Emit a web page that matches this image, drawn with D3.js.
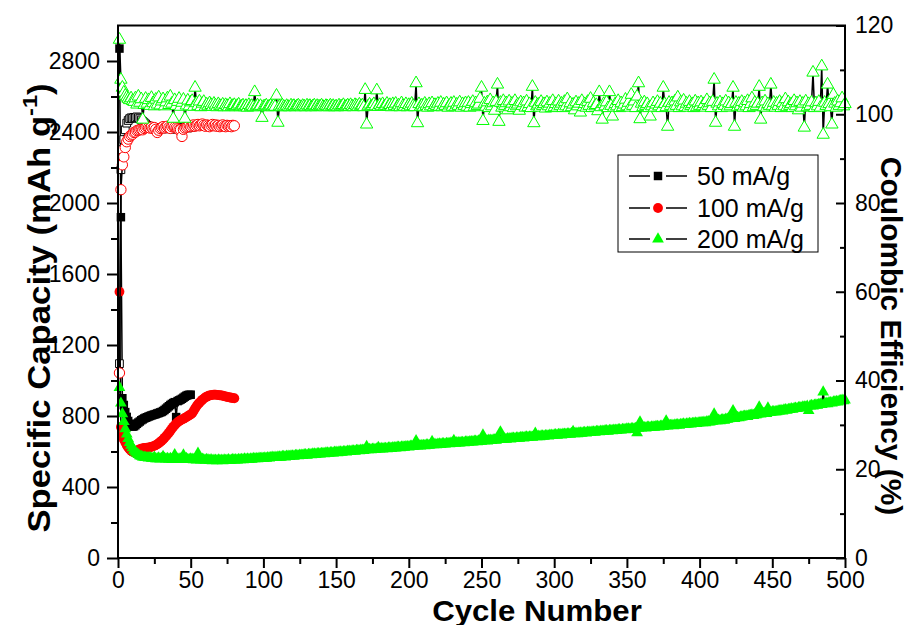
<!DOCTYPE html>
<html>
<head>
<meta charset="utf-8">
<script src="https://cdn.jsdelivr.net/npm/d3@7"></script>
<style>
  body { margin: 0; background: #fff; }
  svg { display: block; font-family: 'Liberation Sans', Arial, sans-serif; }
</style>
</head>
<body>
<svg id="chart" width="908" height="625"></svg>
<script>
// capacity (mAh/g) and coulombic efficiency (%) per cycle
const cap50 = [2870, 1920, 900, 862, 822, 795, 772, 756, 745, 740,
  742, 748, 756, 763, 769, 776, 781, 786, 790, 793,
  797, 800, 803, 806, 808, 811, 814, 817, 820, 823,
  828, 834, 841, 848, 855, 862, 868, 873, 878, 794,
  884, 888, 892, 897, 903, 909, 914, 918, 919, 920]
const ce50 = [43.8, 87.5, 92.0, 94.3, 96.5, 98.0, 98.6, 99.0, 99.2, 99.1,
  99.3, 99.2, 99.4, 99.2, 99.0, 98.7, 98.4, 98.1, 97.8, 97.5,
  97.3, 97.1, 97.0, 96.9, 97.0, 96.8, 96.9, 96.8, 97.0, 96.7,
  96.9, 96.8, 97.0, 96.7, 96.9, 96.8, 97.0, 96.9, 97.1, 96.6,
  96.9, 97.0, 96.8, 97.1, 96.9, 97.0, 97.2, 96.9, 97.1, 97.0]

const cap100 = [1500, 738, 693, 668, 652, 635, 622, 612, 604, 598,
  597, 600, 604, 609, 613, 616, 618, 620, 620, 621,
  622, 624, 626, 629, 632, 636, 641, 647, 654, 661,
  668, 677, 686, 696, 706, 717, 728, 739, 748, 757,
  765, 771, 776, 780, 784, 789, 794, 799, 804, 808,
  815, 828, 842, 855, 866, 875, 883, 891, 898, 904,
  909, 913, 916, 918, 919, 920, 920, 919, 918, 917,
  916, 914, 912, 910, 908, 906, 904, 903, 901, 900]
const ce100 = [41.7, 83.0, 88.6, 90.4, 92.5, 93.8, 94.4, 95.0, 95.3, 95.5,
  95.9, 96.0, 96.3, 96.4, 96.5, 96.6, 96.5, 96.8, 97.0, 97.2,
  97.0, 96.9, 97.1, 96.8, 97.0, 96.6, 95.9, 96.4, 96.8, 97.0,
  97.2, 96.9, 97.1, 97.3, 97.0, 96.8, 97.2, 97.4, 97.1, 96.9,
  96.7, 96.5, 96.5, 95.0, 96.6, 96.9, 97.1, 97.3, 97.5, 97.2,
  97.4, 97.6, 97.3, 97.5, 97.7, 97.4, 97.6, 97.8, 97.5, 97.3,
  97.6, 97.4, 97.2, 97.5, 97.7, 97.4, 97.6, 97.3, 97.5, 97.2,
  97.4, 97.6, 97.3, 97.2, 97.5, 97.3, 97.4, 97.2, 97.5, 97.4]

const cap200 = [960, 872, 812, 768, 728, 698, 672, 650, 634, 620,
  607, 597, 589, 582, 576, 572, 569, 567, 566, 565,
  563, 566, 561, 561, 568, 559, 559, 563, 557, 560,
  572, 561, 557, 560, 556, 561, 555, 558, 582, 559,
  556, 557, 558, 554, 580, 556, 560, 554, 554, 558,
  556, 553, 556, 552, 590, 554, 551, 556, 553, 550,
  554, 552, 549, 553, 548, 551, 550, 547, 552, 549,
  550, 547, 552, 549, 550, 553, 549, 551, 554, 551,
  553, 551, 555, 553, 555, 553, 557, 555, 557, 555,
  558, 556, 560, 558, 560, 558, 562, 560, 562, 560,
  563, 561, 565, 563, 565, 567, 565, 567, 565, 569,
  569, 567, 571, 571, 569, 573, 573, 571, 575, 575,
  573, 577, 577, 575, 579, 579, 577, 581, 581, 579,
  583, 583, 581, 585, 585, 583, 587, 587, 585, 589,
  589, 587, 591, 591, 589, 593, 593, 591, 595, 595,
  593, 597, 597, 595, 599, 599, 597, 601, 601, 599,
  603, 603, 601, 605, 605, 603, 607, 607, 605, 609,
  628, 609, 611, 609, 612, 612, 610, 614, 622, 614,
  616, 614, 617, 617, 615, 619, 619, 617, 621, 621,
  619, 623, 623, 621, 625, 625, 623, 627, 627, 625,
  629, 629, 627, 631, 660, 631, 633, 631, 634, 634,
  632, 636, 636, 634, 638, 656, 638, 640, 637, 641,
  642, 639, 643, 643, 641, 645, 645, 643, 647, 647,
  662, 646, 649, 649, 647, 651, 651, 649, 653, 653,
  651, 655, 655, 653, 657, 657, 655, 659, 659, 657,
  692, 660, 662, 659, 663, 663, 661, 665, 665, 663,
  667, 667, 710, 667, 670, 670, 668, 672, 672, 670,
  674, 674, 672, 676, 676, 674, 678, 678, 676, 680,
  681, 678, 682, 682, 680, 684, 702, 683, 686, 683,
  687, 687, 685, 689, 689, 687, 691, 691, 689, 693,
  694, 691, 695, 695, 693, 697, 697, 695, 699, 699,
  697, 701, 712, 700, 703, 700, 704, 704, 702, 706,
  707, 704, 708, 708, 706, 710, 710, 708, 712, 712,
  710, 714, 714, 712, 716, 716, 714, 718, 718, 716,
  720, 720, 718, 722, 722, 720, 724, 724, 722, 726,
  727, 724, 728, 728, 726, 730, 705, 730, 766, 732,
  734, 734, 732, 736, 736, 734, 738, 738, 736, 740,
  741, 738, 742, 742, 740, 744, 772, 743, 746, 746,
  748, 745, 749, 749, 751, 748, 752, 752, 754, 751,
  755, 755, 757, 754, 758, 758, 760, 757, 761, 761,
  763, 762, 765, 762, 767, 767, 765, 770, 770, 811,
  773, 772, 776, 773, 777, 779, 776, 781, 781, 784,
  785, 785, 830, 786, 790, 791, 789, 794, 794, 797,
  798, 798, 797, 802, 802, 805, 802, 807, 807, 810,
  850, 810, 814, 814, 817, 814, 845, 820, 820, 823,
  824, 824, 823, 828, 828, 831, 828, 833, 835, 832,
  837, 836, 840, 837, 842, 843, 841, 846, 847, 845,
  850, 851, 849, 854, 830, 856, 859, 856, 861, 862,
  860, 865, 866, 864, 935, 869, 872, 869, 874, 875,
  873, 878, 879, 881, 879, 884, 885, 888, 885, 890]
const ce200 = [116.8, 107.8, 106.0, 104.9, 104.2, 103.8, 103.5, 103.2, 103.6, 103.0,
  102.8, 103.6, 102.2, 104.0, 102.6, 103.4, 98.8, 102.1, 103.5, 102.4,
  103.2, 101.9, 103.7, 102.5, 101.8, 103.3, 102.2, 103.8, 102.0, 102.9,
  103.4, 101.8, 102.7, 103.6, 102.1, 104.0, 102.4, 99.0, 103.2, 101.9,
  102.8, 103.5, 101.7, 102.6, 103.3, 99.0, 102.0, 103.1, 101.8, 102.7,
  103.0, 101.7, 106.0, 102.5, 101.9, 102.9, 101.6, 102.4, 102.8, 101.7,
  102.2, 101.8, 102.5, 102.1, 101.7, 102.4, 102.0, 101.6, 102.3, 101.9,
  101.8, 102.2, 101.6, 102.1, 101.9, 101.6, 102.3, 101.7, 101.9, 102.1,
  101.6, 101.9, 102.2, 101.6, 101.8, 102.0, 101.6, 101.9, 101.5, 102.1,
  101.7, 101.9, 101.6, 105.0, 101.8, 102.0, 101.6, 101.9, 99.2, 101.7,
  101.8, 102.0, 101.6, 101.8, 102.0, 101.6, 101.9, 101.7, 104.2, 98.1,
  101.8, 101.6, 102.0, 101.7, 101.6, 101.9, 101.7, 101.6, 102.0, 101.7,
  101.9, 101.6, 101.8, 102.0, 101.7, 101.6, 101.9, 101.8, 101.6, 102.0,
  101.7, 101.9, 101.6, 101.8, 102.0, 101.6, 101.9, 101.7, 101.8, 102.0,
  101.7, 101.6, 101.9, 101.8, 101.6, 102.0, 101.7, 101.9, 101.6, 101.8,
  101.6, 102.0, 101.7, 101.8, 102.1, 101.6, 101.8, 102.0, 101.7, 102.1,
  101.8, 101.6, 102.1, 101.9, 101.7, 102.2, 101.8, 102.0, 101.6, 105.5,
  97.7, 101.8, 102.2, 101.7, 101.9, 102.3, 101.8, 105.4, 101.7, 102.1,
  101.8, 102.3, 101.7, 101.9, 102.4, 101.8, 102.1, 101.6, 102.3, 101.9,
  102.4, 101.7, 102.0, 101.6, 102.5, 101.9, 101.7, 102.3, 101.6, 102.1,
  101.8, 102.4, 101.9, 101.6, 107.0, 98.0, 102.3, 101.7, 102.0, 101.6,
  102.4, 101.9, 101.5, 102.3, 101.8, 102.5, 101.6, 102.1, 101.9, 102.4,
  101.7, 102.6, 101.6, 102.2, 101.9, 102.5, 101.5, 102.0, 102.4, 101.7,
  102.6, 101.6, 102.2, 101.9, 102.7, 101.5, 102.3, 101.9, 102.5, 101.7,
  102.6, 101.5, 102.3, 102.8, 101.6, 102.5, 101.9, 102.2, 103.5, 106.0,
  98.5, 102.4, 101.7, 102.7, 101.4, 103.2, 101.8, 102.5, 100.8, 102.8,
  106.7, 98.3, 102.6, 101.5, 103.0, 101.9, 102.5, 100.9, 102.9, 101.6,
  102.4, 101.4, 103.0, 101.8, 102.2, 100.8, 102.7, 101.9, 102.5, 101.5,
  102.9, 101.6, 102.3, 101.4, 106.2, 98.0, 102.6, 101.8, 102.2, 101.5,
  102.8, 101.9, 102.3, 101.3, 102.7, 101.8, 102.4, 101.4, 103.0, 101.6,
  102.3, 101.5, 102.9, 101.9, 102.4, 101.4, 102.8, 101.8, 103.4, 101.5,
  102.5, 101.6, 102.2, 100.9, 102.7, 101.8, 102.4, 100.4, 103.0, 101.6,
  102.3, 101.5, 102.8, 101.9, 103.5, 101.4, 102.5, 101.8, 102.1, 100.7,
  105.0, 101.6, 98.8, 102.3, 101.8, 102.7, 101.4, 105.0, 101.9, 99.5,
  101.5, 102.3, 101.8, 103.0, 101.4, 102.5, 101.6, 102.2, 103.3, 101.8,
  102.6, 101.5, 104.4, 101.9, 102.9, 101.4, 104.0, 107.0, 98.9, 102.4,
  101.6, 102.7, 101.9, 102.3, 101.4, 99.5, 101.8, 102.5, 101.5, 102.2,
  102.8, 101.8, 102.4, 101.4, 106.0, 102.3, 101.6, 97.2, 102.6, 101.9,
  102.5, 101.5, 102.9, 101.9, 103.8, 101.4, 102.7, 101.8, 103.1, 101.6,
  102.4, 101.5, 102.8, 101.9, 102.3, 101.4, 102.9, 101.6, 102.5, 101.9,
  102.7, 101.8, 102.3, 101.5, 103.2, 101.9, 102.5, 101.4, 102.8, 107.8,
  98.1, 102.4, 101.8, 102.7, 101.4, 102.3, 101.9, 102.9, 101.5, 102.5,
  101.8, 102.3, 106.0, 97.2, 102.6, 101.6, 102.4, 101.9, 102.8, 101.5,
  102.5, 101.8, 103.0, 101.4, 102.3, 103.6, 101.6, 102.6, 101.9, 102.4,
  106.2, 98.8, 102.5, 101.6, 102.9, 101.5, 102.3, 101.9, 106.7, 101.8,
  102.6, 101.5, 102.4, 101.9, 102.8, 101.4, 102.5, 101.8, 103.4, 101.6,
  102.7, 101.9, 102.3, 101.4, 103.0, 101.8, 102.5, 100.9, 102.8, 101.5,
  102.4, 97.0, 102.9, 101.6, 102.3, 101.9, 102.7, 109.4, 101.4, 102.5,
  101.8, 102.8, 101.5, 110.8, 95.4, 102.6, 101.9, 106.7, 102.3, 101.6,
  97.7, 104.4, 102.4, 101.5, 102.9, 101.9, 102.5, 103.6, 101.8, 102.3]

const seriesNames = ['50 mA/g', '100 mA/g', '200 mA/g']
const seriesColors = ['#000000', '#ff0000', '#00ff00']
const xTicks = [0, 50, 100, 150, 200, 250, 300, 350, 400, 450, 500]
const yLeftTicks = [0, 400, 800, 1200, 1600, 2000, 2400, 2800]
const yRightTicks = [0, 20, 40, 60, 80, 100, 120]

const svg = d3.select('#chart')
svg.append('rect').attr('width', 908).attr('height', 625).attr('fill', '#fff')

const pL = 118, pR = 845, pT = 25.5, pB = 558
const x = d3.scaleLinear().domain([0, 500]).range([pL, pR])
const yCap = d3.scaleLinear().domain([0, 3000]).range([pB, pT])
const yCe = d3.scaleLinear().domain([0, 120]).range([pB, pT])

const shapes = [d3.symbolSquare, d3.symbolCircle, d3.symbolTriangle]
const filledSize = [72, 76, 60]
const openSize = [60, 84, 66]

const plot = svg.append('g')

function drawSeries(vals, y, i, filled) {
  const pts = vals.map((v, k) => [x(k + 1), y(v)])
  plot.append('path')
    .attr('d', d3.line()(pts))
    .attr('fill', 'none')
    .attr('stroke', '#000')
    .attr('stroke-width', 1.5)
  const sym = d3.symbol().type(shapes[i]).size(filled ? filledSize[i] : openSize[i])
  plot.append('g').selectAll('path')
    .data(pts)
    .join('path')
    .attr('transform', d => `translate(${d[0]},${d[1]})`)
    .attr('d', sym)
    .attr('fill', filled ? seriesColors[i] : '#fff')
    .attr('stroke', filled ? 'none' : seriesColors[i])
    .attr('stroke-width', 1)
}

const caps = [cap50, cap100, cap200]
const ces = [ce50, ce100, ce200]
caps.forEach((c, i) => {
  drawSeries(c, yCap, i, true)
  drawSeries(ces[i], yCe, i, false)
})

// axes
const fontSize = 23
const fmt = d3.format('d')
function styleAxis(g) {
  g.select('.domain').remove()
  g.selectAll('line').attr('stroke', '#000').attr('stroke-width', 2)
  g.selectAll('text').attr('font-size', fontSize).attr('fill', '#000')
    .attr('font-family', "'Liberation Sans', Arial, sans-serif")
}

svg.append('g').attr('transform', `translate(0,${pB})`)
  .call(d3.axisBottom(x).tickValues(xTicks).tickFormat(fmt).tickSize(10).tickPadding(4))
  .call(styleAxis)
svg.append('g').attr('transform', `translate(0,${pB})`)
  .call(d3.axisBottom(x).tickValues(d3.range(25, 500, 50)).tickSize(6).tickFormat(''))
  .call(styleAxis)

svg.append('g').attr('transform', `translate(${pL},0)`)
  .call(d3.axisLeft(yCap).tickValues(yLeftTicks).tickFormat(fmt).tickSize(11).tickPadding(7))
  .call(styleAxis)
svg.append('g').attr('transform', `translate(${pL},0)`)
  .call(d3.axisLeft(yCap).tickValues(d3.range(200, 3000, 400)).tickSize(7).tickFormat(''))
  .call(styleAxis)

svg.append('g').attr('transform', `translate(${pR},0)`)
  .call(d3.axisRight(yCe).tickValues(yRightTicks).tickFormat(fmt).tickSize(-9).tickPadding(10))
  .call(styleAxis)
svg.append('g').attr('transform', `translate(${pR},0)`)
  .call(d3.axisRight(yCe).tickValues(d3.range(10, 120, 20)).tickSize(-5).tickFormat(''))
  .call(styleAxis)

svg.append('rect')
  .attr('x', pL).attr('y', pT)
  .attr('width', pR - pL).attr('height', pB - pT)
  .attr('fill', 'none').attr('stroke', '#000').attr('stroke-width', 2)

// titles
svg.append('text')
  .attr('x', 537).attr('y', 621)
  .attr('text-anchor', 'middle')
  .attr('font-size', 30).attr('font-weight', 'bold')
  .attr('transform', 'translate(537,0) scale(1.04,1) translate(-537,0)')
  .text('Cycle Number')

const yt = svg.append('text')
  .attr('transform', 'translate(50,308) rotate(-90) scale(1.12,1)')
  .attr('text-anchor', 'middle')
  .attr('font-size', 31).attr('font-weight', 'bold')
yt.append('tspan').text('Specific Capacity (mAh g')
yt.append('tspan').attr('font-size', 21).attr('dy', -13).text('-1')
yt.append('tspan').attr('dy', 13).text(')')

svg.append('text')
  .attr('transform', 'translate(881,336) rotate(90) scale(1.03,1)')
  .attr('text-anchor', 'middle')
  .attr('font-size', 29).attr('font-weight', 'bold')
  .text('Coulombic Efficiency (%)')

// legend
const legend = svg.append('g')
legend.append('rect')
  .attr('x', 618).attr('y', 155).attr('width', 200).attr('height', 97)
  .attr('fill', '#fff').attr('stroke', '#000').attr('stroke-width', 1)
const rowY = [176, 208, 239]
seriesNames.forEach((name, i) => {
  const yy = rowY[i]
  legend.append('line').attr('x1', 629).attr('x2', 650).attr('y1', yy).attr('y2', yy)
    .attr('stroke', '#000').attr('stroke-width', 1.5)
  legend.append('line').attr('x1', 666).attr('x2', 687).attr('y1', yy).attr('y2', yy)
    .attr('stroke', '#000').attr('stroke-width', 1.5)
  legend.append('path')
    .attr('transform', `translate(658,${yy})`)
    .attr('d', d3.symbol().type(shapes[i]).size(filledSize[i]))
    .attr('fill', seriesColors[i])
  legend.append('text')
    .attr('x', 697).attr('y', yy + 9)
    .attr('font-size', 25)
    .text(name)
})
</script>
</body>
</html>
